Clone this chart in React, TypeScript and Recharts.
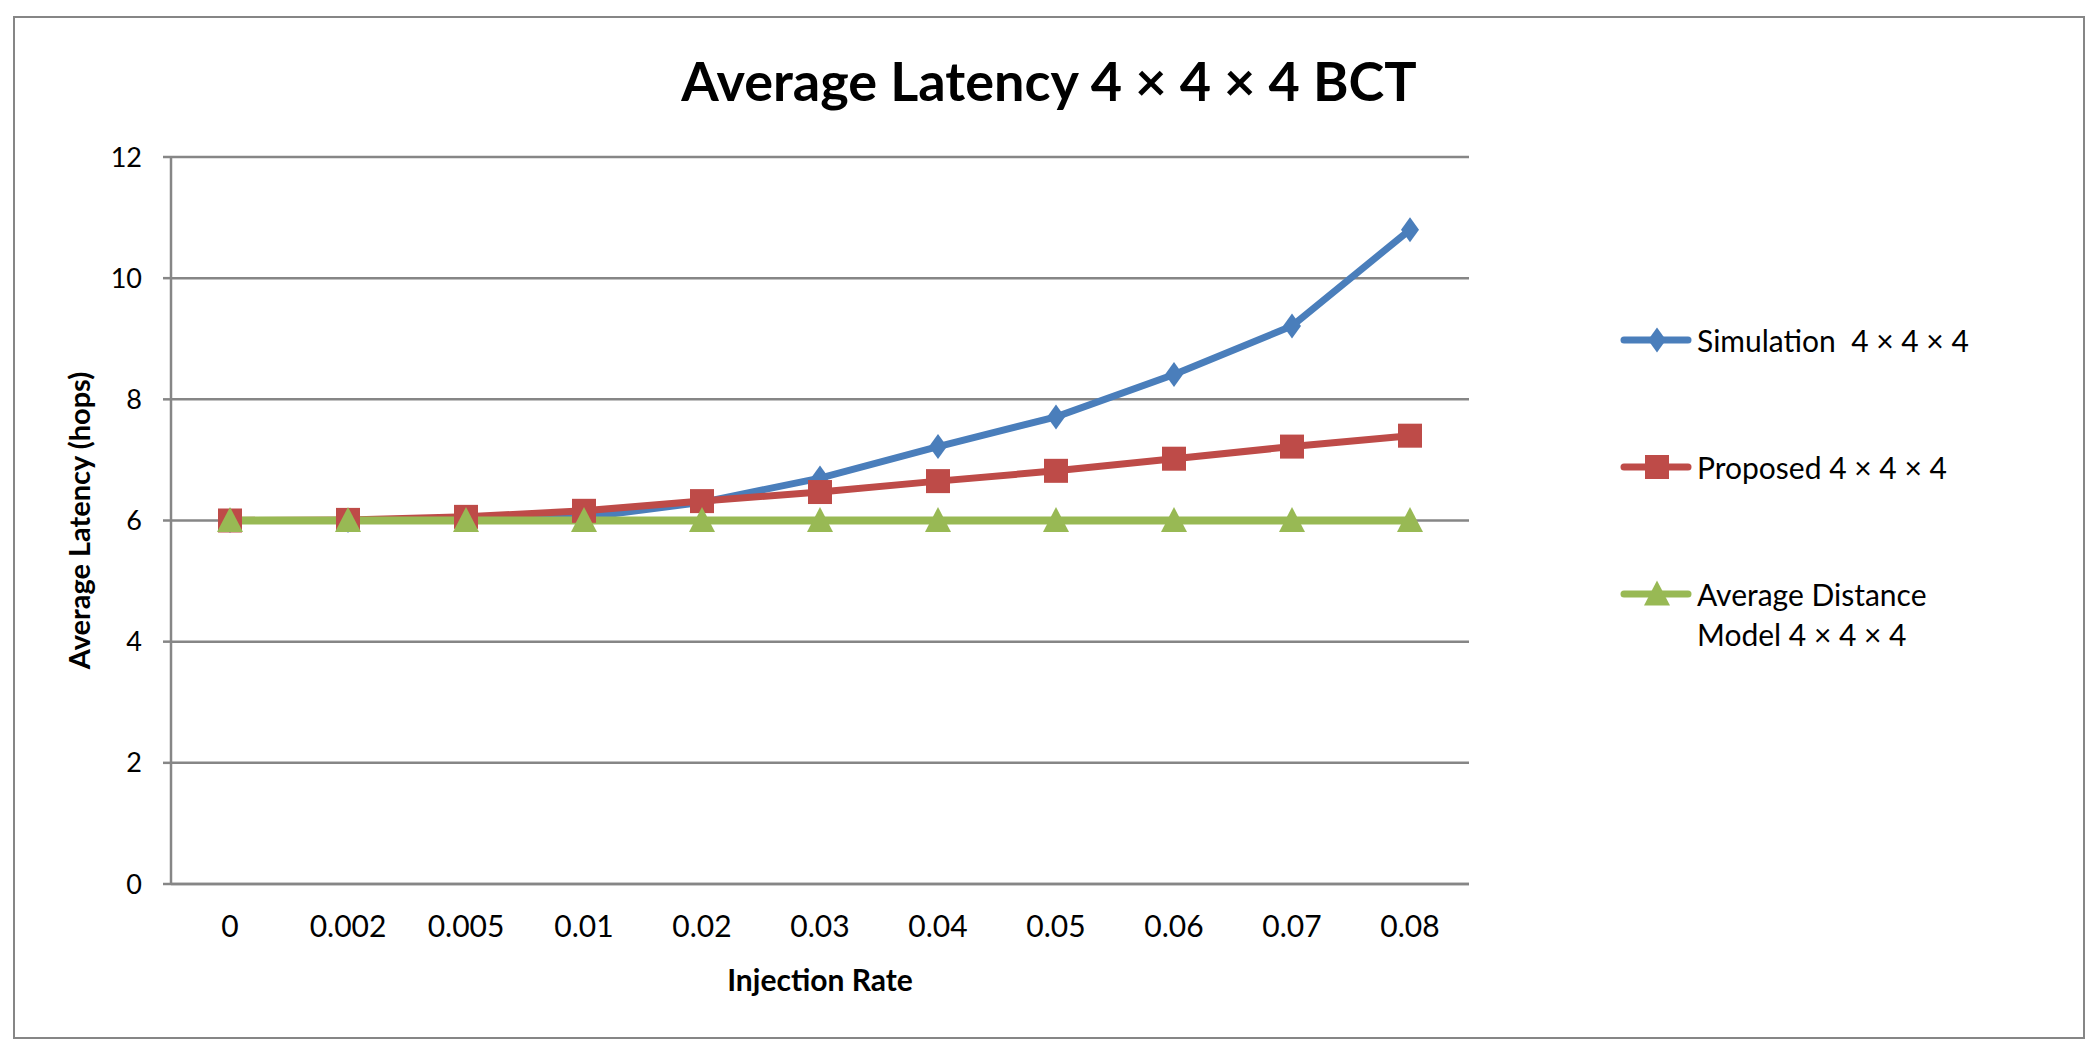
import { CartesianGrid, Legend, Line, LineChart, XAxis, YAxis } from 'recharts';

const rates = ['0', '0.002', '0.005', '0.01', '0.02', '0.03', '0.04', '0.05', '0.06', '0.07', '0.08'];
const simulation = [6, 6, 6.02, 6.05, 6.3, 6.7, 7.22, 7.71, 8.41, 9.21, 10.8];
const proposed = [6, 6.01, 6.06, 6.16, 6.32, 6.47, 6.65, 6.82, 7.02, 7.22, 7.4];
const avgDistance = [6, 6, 6, 6, 6, 6, 6, 6, 6, 6, 6];
const yTicks = [0, 2, 4, 6, 8, 10, 12];

const series = [
  { key: 'sim', name: 'Simulation  4 × 4 × 4', color: '#4a7ebb', shape: 'diamond' },
  { key: 'prop', name: 'Proposed 4 × 4 × 4', color: '#be4b48', shape: 'square' },
  { key: 'avg', name: 'Average Distance\nModel 4 × 4 × 4', color: '#98b954', shape: 'triangle' },
];

const data = rates.map((rate, i) => ({
  rate,
  sim: simulation[i],
  prop: proposed[i],
  avg: avgDistance[i],
}));

const grey = '#868686';
const font = 'Lato, "Open Sans", sans-serif';

function marker(shape: string, cx: number, cy: number, color: string, key?: string) {
  if (shape === 'diamond') {
    return <path key={key} d={`M${cx} ${cy - 12.5}L${cx + 9} ${cy}L${cx} ${cy + 12.5}L${cx - 9} ${cy}Z`} fill={color} />;
  }
  if (shape === 'square') {
    return <rect key={key} x={cx - 12} y={cy - 12} width={24} height={24} fill={color} />;
  }
  return <path key={key} d={`M${cx} ${cy - 13.5}L${cx + 13} ${cy + 11.5}L${cx - 13} ${cy + 11.5}Z`} fill={color} />;
}

function LegendBox() {
  return (
    <div style={{ fontFamily: font, fontSize: 30, lineHeight: '40px', color: '#000' }}>
      {series.map((s) => (
        <div key={s.key} style={{ display: 'flex', alignItems: 'flex-start', marginBottom: 87 }}>
          <svg width={77} height={40} style={{ flexShrink: 0 }}>
            <line x1={4} y1={20} x2={68} y2={20} stroke={s.color} strokeWidth={7} strokeLinecap="round" />
            {marker(s.shape, 37, 20, s.color)}
          </svg>
          <span style={{ whiteSpace: 'pre' }}>{s.name}</span>
        </div>
      ))}
    </div>
  );
}

export default function App() {
  return (
    <div style={{ position: 'absolute', left: 0, top: 0, width: 2100, height: 1058, background: '#fff', fontFamily: font }}>
      <div
        style={{
          position: 'absolute', left: 13, top: 16, width: 2072, height: 1023,
          border: `2.5px solid ${grey}`, boxSizing: 'border-box',
        }}
      />
      <div
        style={{
          position: 'absolute', left: 0, top: 54, width: 2098, textAlign: 'center',
          fontSize: 54, fontWeight: 700, lineHeight: '54px', color: '#000',
        }}
      >
        Average Latency 4 × 4 × 4 BCT
      </div>
      <div style={{ position: 'absolute', left: 0, top: 0 }}>
        <LineChart width={2100} height={1058} data={data} margin={{ top: 157, right: 631, bottom: 54, left: 51 }}>
          <CartesianGrid vertical={false} stroke={grey} strokeWidth={2.5} />
          <XAxis
            dataKey="rate"
            type="category"
            height={120}
            interval={0}
            padding={{ left: 59, right: 59 }}
            tickLine={false}
            tickSize={0}
            tickMargin={32}
            axisLine={{ stroke: grey, strokeWidth: 2.5 }}
            tick={{ fontFamily: font, fontSize: 30, fill: '#000' }}
            label={{
              value: 'Injection Rate', position: 'insideBottom', offset: 13,
              style: { fontFamily: font, fontSize: 30, fontWeight: 700, fill: '#000' },
            }}
          />
          <YAxis
            domain={[0, 12]}
            ticks={yTicks}
            width={120}
            tickSize={8}
            tickMargin={21}
            tickLine={{ stroke: grey, strokeWidth: 2.5 }}
            axisLine={{ stroke: grey, strokeWidth: 2.5 }}
            tick={{ fontFamily: font, fontSize: 27, fill: '#000' }}
            label={{
              value: 'Average Latency (hops)', angle: -90, position: 'insideLeft', offset: 29,
              style: { textAnchor: 'middle', fontFamily: font, fontSize: 29, fontWeight: 700, fill: '#000' },
            }}
          />
          <Legend
            layout="vertical"
            align="center"
            verticalAlign="middle"
            wrapperStyle={{ left: 1620, top: 320, width: 460 }}
            content={() => <LegendBox />}
          />
          {series.map((s) => (
            <Line
              key={s.key}
              dataKey={s.key}
              name={s.name}
              type="linear"
              stroke={s.color}
              strokeWidth={s.key === 'avg' ? 8 : 7}
              isAnimationActive={false}
              activeDot={false}
              dot={(p: any) => marker(s.shape, p.cx, p.cy, s.color, `${s.key}-${p.index}`)}
            />
          ))}
        </LineChart>
      </div>
    </div>
  );
}
